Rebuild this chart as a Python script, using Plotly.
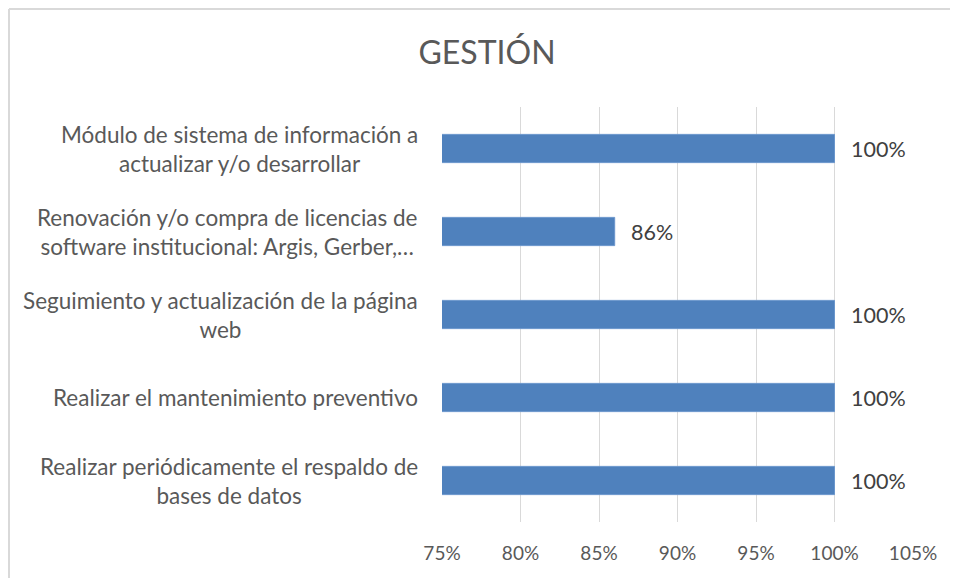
import plotly.graph_objects as go

categories = [
    "Módulo de sistema de información a<br>actualizar y/o desarrollar",
    "Renovación y/o compra de licencias de<br>software institucional: Argis, Gerber,…",
    "Seguimiento y actualización de la página<br>web",
    "Realizar el mantenimiento preventivo",
    "Realizar periódicamente el respaldo de<br>bases de datos",
]
values = [1.00, 0.86, 1.00, 1.00, 1.00]
value_labels = ["100%", "86%", "100%", "100%", "100%"]
tick_vals = [0.75, 0.80, 0.85, 0.90, 0.95, 1.00, 1.05]
tick_text = ["75%", "80%", "85%", "90%", "95%", "100%", "105%"]

FONT = "Lato, Open Sans, sans-serif"
GREY = "#595959"

W, H = 958, 578
ML, MR, MT, MB = 434, 53, 99, 64
PW, PH = W - ML - MR, H - MT - MB

fig = go.Figure()
fig.add_trace(go.Bar(
    y=categories, x=values, orientation="h",
    marker=dict(color="#4F81BD", line=dict(color="#6A96CC", width=1)),
    width=0.34,
    hoverinfo="skip",
))

annotations = []
for cat in categories:
    annotations.append(dict(
        x=0, xref="paper", xanchor="right", xshift=-22,
        y=cat, yref="y", yanchor="middle",
        text=cat, showarrow=False, align="center",
        font=dict(family=FONT, size=22.5, color=GREY),
    ))
for cat, v, lab in zip(categories, values, value_labels):
    annotations.append(dict(
        x=v, xref="x", xanchor="left", xshift=14,
        y=cat, yref="y", yanchor="middle",
        text=lab, showarrow=False,
        font=dict(family=FONT, size=21.5, color="#404040"),
    ))

left_x = -ML / PW + 1.0 / PW
top_y = 1 + MT / PH - 1.0 / PH
fig.update_layout(
    width=W, height=H,
    margin=dict(l=ML, r=MR, t=MT, b=MB),
    paper_bgcolor="white", plot_bgcolor="white",
    title=dict(text="GESTIÓN", x=0.5, xanchor="center", y=1 - 45 / H, yanchor="middle",
               font=dict(family=FONT, size=32, color=GREY)),
    showlegend=False,
    bargap=0.66,
    xaxis=dict(range=[0.75, 1.05], tickvals=tick_vals, ticktext=tick_text,
               showgrid=True, gridcolor="#D9D9D9", gridwidth=1,
               zeroline=False, showline=False, ticks="",
               ticklabelstandoff=18,
               tickfont=dict(family=FONT, size=19, color=GREY)),
    yaxis=dict(autorange="reversed", showticklabels=False, showgrid=False,
               zeroline=False, showline=False, ticks=""),
    annotations=annotations,
    shapes=[
        dict(type="line", xref="paper", yref="paper",
             x0=left_x, x1=left_x, y0=-MB / PH - 0.05, y1=top_y,
             line=dict(color="#D9D9D9", width=2), layer="below"),
        dict(type="line", xref="paper", yref="paper",
             x0=left_x, x1=1 + MR / PW + 0.05, y0=top_y, y1=top_y,
             line=dict(color="#D9D9D9", width=2), layer="below"),
    ],
)
fig.write_html(
    "out.html",
    post_script="document.documentElement.style.overflow='hidden';document.body.style.overflow='hidden';",
)
